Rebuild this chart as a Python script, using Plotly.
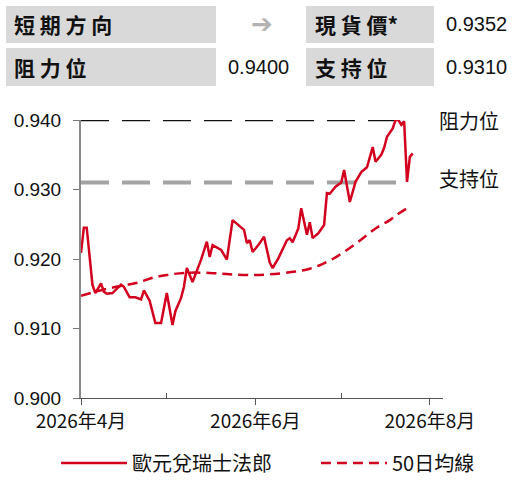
import plotly.graph_objects as go

# ---------------- data ----------------
price_dates = ["2026-04-01","2026-04-02","2026-04-03","2026-04-05","2026-04-06","2026-04-08","2026-04-09",
               "2026-04-10","2026-04-12","2026-04-15","2026-04-16","2026-04-18","2026-04-20","2026-04-22",
               "2026-04-23","2026-04-25","2026-04-27","2026-04-29","2026-05-01","2026-05-03","2026-05-04",
               "2026-05-06","2026-05-07","2026-05-08","2026-05-10","2026-05-13","2026-05-15","2026-05-16",
               "2026-05-17","2026-05-20","2026-05-22","2026-05-24","2026-05-28","2026-05-29","2026-05-30",
               "2026-05-31","2026-06-02","2026-06-04","2026-06-06","2026-06-07","2026-06-09","2026-06-12",
               "2026-06-13","2026-06-14","2026-06-16","2026-06-17","2026-06-19","2026-06-20","2026-06-21",
               "2026-06-23","2026-06-25","2026-06-26","2026-06-27","2026-06-29","2026-07-01","2026-07-02",
               "2026-07-04","2026-07-06","2026-07-08","2026-07-09","2026-07-10","2026-07-12","2026-07-13",
               "2026-07-15","2026-07-16","2026-07-17","2026-07-19","2026-07-20","2026-07-21","2026-07-22",
               "2026-07-23","2026-07-24","2026-07-25","2026-07-26"]
price_values = [0.9209,0.9245,0.9245,0.9163,0.9151,0.9165,0.9153,
                0.9150,0.9151,0.9163,0.9160,0.9145,0.9145,0.9142,
                0.9155,0.9140,0.9108,0.9108,0.9151,0.9105,0.9125,
                0.9144,0.9160,0.9187,0.9167,0.9199,0.9225,0.9203,
                0.9220,0.9213,0.9199,0.9256,0.9242,0.9223,0.9227,
                0.9210,0.9220,0.9232,0.9195,0.9187,0.9201,0.9227,
                0.9230,0.9224,0.9244,0.9273,0.9235,0.9253,0.9230,
                0.9237,0.9249,0.9295,0.9294,0.9304,0.9310,0.9328,
                0.9282,0.9311,0.9325,0.9328,0.9332,0.9361,0.9340,
                0.9350,0.9360,0.9376,0.9388,0.9400,0.9400,0.9393,
                0.9398,0.9311,0.9347,0.9352]

ma_dates = ["2026-04-01","2026-04-06","2026-04-11","2026-04-16","2026-04-21","2026-04-26","2026-05-01",
            "2026-05-07","2026-05-16","2026-05-23","2026-05-30","2026-06-06","2026-06-15","2026-06-20",
            "2026-06-24","2026-06-28","2026-07-03","2026-07-08","2026-07-13","2026-07-18","2026-07-21",
            "2026-07-24"]
ma_values = [0.9147,0.9153,0.9158,0.9162,0.9166,0.9173,0.9177,
             0.9180,0.9180,0.9178,0.9177,0.9178,0.9182,0.9186,
             0.9192,0.9200,0.9213,0.9228,0.9244,0.9256,0.9265,
             0.9273]

resistance = 0.9400
support = 0.9310
spot = 0.9352
level_dates = ["2026-04-01", "2026-07-24"]

series_names = ["歐元兌瑞士法郎", "50日均線"]
level_names = ["阻力位", "支持位"]
header_labels = ["短 期 方 向", "現 貨 價*", "阻 力 位", "支 持 位"]
direction_symbol = "➔"

y_ticks = [0.900, 0.910, 0.920, 0.930, 0.940]
x_tick_dates = ["2026-04-01", "2026-06-01", "2026-08-01"]
x_tick_labels = ["2026年4月", "2026年6月", "2026年8月"]
x_minor_dates = ["2026-05-01", "2026-07-01"]

# ---------------- layout geometry ----------------
W, H = 517, 484
ML, MR, MT, MB = 81, 74, 120, 86
PW, PH = W - ML - MR, H - MT - MB

def px_x(px):
    return (px - ML) / PW

def px_y(py):
    return (H - MB - py) / PH

RED = "#d2001e"
CJK = "Noto Sans CJK TC"
NUM = "Liberation Sans, Arial"
X_RANGE = ["2026-04-01", "2026-08-05 14:00"]

fig = go.Figure()

fig.add_trace(go.Scatter(x=level_dates, y=[resistance] * 2, mode="lines",
                         line=dict(color="#111111", width=2.5, dash="28px,13px"),
                         showlegend=False, hoverinfo="skip"))
fig.add_trace(go.Scatter(x=level_dates, y=[support] * 2, mode="lines",
                         line=dict(color="#a3a3a3", width=4, dash="28px,13px"),
                         showlegend=False, hoverinfo="skip"))
fig.add_trace(go.Scatter(x=ma_dates, y=ma_values, mode="lines", name=series_names[1],
                         legend="legend2",
                         line=dict(color=RED, width=2.5, dash="10px,6px", shape="spline")))
fig.add_trace(go.Scatter(x=price_dates, y=price_values, mode="lines", name=series_names[0],
                         legend="legend",
                         line=dict(color=RED, width=2.5)))

shapes = []
boxes = [(6, 216, 6, 43), (306, 434, 6, 43), (6, 216, 48, 86), (306, 434, 48, 86)]
for x0, x1, y0, y1 in boxes:
    shapes.append(dict(type="rect", xref="paper", yref="paper",
                       x0=px_x(x0), x1=px_x(x1), y0=px_y(y1), y1=px_y(y0),
                       fillcolor="#d9d9d9", line=dict(width=0), layer="below"))

ann = []
row_c = [24.5, 67]
label_pos = [(12, row_c[0]), (313, row_c[0]), (12, row_c[1]), (313, row_c[1])]
for txt, (lx, ly) in zip(header_labels, label_pos):
    ann.append(dict(text="<b>%s</b>" % txt, xref="paper", yref="paper", x=px_x(lx), y=px_y(ly),
                    xanchor="left", yanchor="middle", showarrow=False,
                    font=dict(family=CJK, size=21, color="#111")))
ann.append(dict(text="<b>%s</b>" % direction_symbol, xref="paper", yref="paper",
                x=px_x(262), y=px_y(row_c[0]),
                xanchor="center", yanchor="middle", showarrow=False,
                font=dict(family="DejaVu Sans", size=26, color="#b3b3b3")))
for val, rx, ry in [(spot, 509, row_c[0]), (resistance, 291, row_c[1]), (support, 509, row_c[1])]:
    ann.append(dict(text="%.4f" % val, xref="paper", yref="paper", x=px_x(rx), y=px_y(ry),
                    xanchor="right", yanchor="middle", showarrow=False,
                    font=dict(family=NUM, size=20, color="#111")))
for name, lvl, shift in [(level_names[0], resistance, 0), (level_names[1], support, 4)]:
    ann.append(dict(text=name, xref="paper", yref="y", x=px_x(437), y=lvl, yshift=shift,
                    xanchor="left", yanchor="middle", showarrow=False,
                    font=dict(family=CJK, size=20, color="#111")))

legend_common = dict(orientation="h", xref="container", yref="container",
                     y=1 - 463 / H, xanchor="left", yanchor="middle", itemwidth=66,
                     font=dict(family=CJK, size=20, color="#111"), bgcolor="rgba(0,0,0,0)")

fig.update_layout(
    width=W, height=H,
    margin=dict(l=ML, r=MR, t=MT, b=MB, autoexpand=False),
    paper_bgcolor="white", plot_bgcolor="white",
    shapes=shapes, annotations=ann,
    showlegend=True,
    legend=dict(x=56 / W, **legend_common),
    legend2=dict(x=316 / W, **legend_common),
    xaxis=dict(type="date", range=X_RANGE,
               tickmode="array", tickvals=x_tick_dates, ticktext=x_tick_labels,
               ticks="outside", ticklen=6, tickcolor="#555", tickwidth=1,
               minor=dict(tickmode="array", tickvals=x_minor_dates, ticks="inside", ticklen=5,
                          tickcolor="#555", tickwidth=1),
               showline=True, linecolor="#555", linewidth=1, showgrid=False, zeroline=False,
               tickfont=dict(family=CJK, size=19, color="#111")),
    xaxis2=dict(type="date", range=X_RANGE, overlaying="x", anchor="y", side="bottom",
                tickmode="array", tickvals=x_tick_dates, ticks="inside", ticklen=5,
                tickcolor="#555", tickwidth=1, showticklabels=False, showline=False,
                showgrid=False, zeroline=False),
    yaxis=dict(range=[0.900, 0.940], tickmode="array", tickvals=y_ticks, tickformat=".3f",
               ticks="outside", ticklen=6, tickcolor="#777", tickwidth=1,
               showline=True, linecolor="#8a8a8a", linewidth=2, showgrid=False, zeroline=False,
               ticklabelstandoff=8,
               tickfont=dict(family=NUM, size=19, color="#111")),
)

fig.write_html("out.html", config={"displayModeBar": False},
               post_script="document.body.style.margin='0';")
